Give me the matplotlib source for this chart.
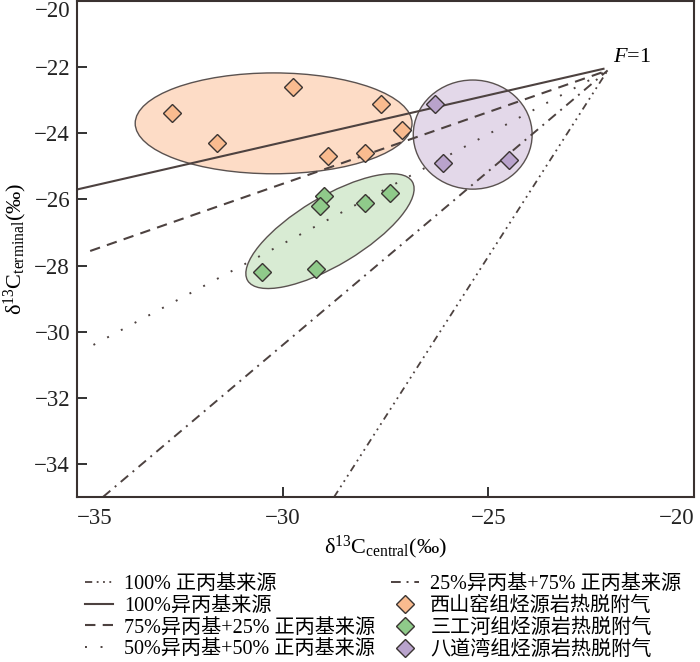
import numpy as np
import matplotlib
matplotlib.use("Agg")
import matplotlib.pyplot as plt
from matplotlib.patches import Ellipse
from matplotlib.lines import Line2D
from matplotlib.transforms import Affine2D

plt.rcParams['font.family'] = ['Liberation Serif', 'Noto Sans CJK SC', 'DejaVu Sans']
plt.rcParams['mathtext.fontset'] = 'custom'
plt.rcParams['mathtext.rm'] = 'Liberation Serif'
plt.rcParams['mathtext.it'] = 'Liberation Serif:italic'
plt.rcParams['axes.unicode_minus'] = True

# 数据
xiyao_x = [-32.7, -31.6, -29.75, -28.9, -27.6, -27.1, -28.0]
xiyao_y = [-23.4, -24.3, -22.6, -24.7, -23.1, -23.9, -24.6]
sangong_x = [-29.0, -29.1, -30.5, -29.2, -28.0, -27.4]
sangong_y = [-25.9, -26.2, -28.2, -28.1, -26.1, -25.8]
badao_x = [-26.3, -26.1, -24.5]
badao_y = [-23.1, -24.9, -24.8]

# 混合线：起点 -> F=1 汇聚点
f1_point = (-22.1, -22.1)
mix_start_x = [-28.75, -35.0, -34.68, -34.6, -34.37]
mix_start_y = [-35.0, -25.7, -27.56, -30.4, -35.0]
mix_labels = ['100% 正丙基来源', '100%异丙基来源', '75%异丙基+25% 正丙基来源',
              '50%异丙基+50% 正丙基来源', '25%异丙基+75% 正丙基来源']
mix_styles = [(0, (4, 2.5, 1, 2.5, 1, 2.5, 1, 2.5)), '-', (0, (5, 3.5)),
              (0, (1, 7)), (0, (5, 3, 1, 3))]
mix_widths = [1.3, 1.5, 1.5, 1.4, 1.4]

line_c = '#4d4240'
edge_c = '#3a3432'

fig = plt.figure(figsize=(7, 6.62), dpi=100)
ax = fig.add_axes([77 / 700, 1 - 497 / 662, 617 / 700, 496 / 662])
ax.set_xlim(-35, -20)
ax.set_ylim(-35, -20)

# y 方向相对 x 方向的像素比例，用于画旋转椭圆
ratio = (41.13 / 33.07)

# 椭圆范围
ax.add_patch(Ellipse((-30.22, -23.70), 6.73, 3.05, facecolor='#fddcc6',
                     edgecolor='#5a5250', lw=1.0, zorder=1))
ax.add_patch(Ellipse((-25.38, -24.04), 2.89, 3.30, facecolor='#e3d8e9',
                     edgecolor='#5a5250', lw=1.0, zorder=1))
green_tr = Affine2D().scale(1, ratio).translate(-28.85, -26.96) + ax.transData
ax.add_patch(Ellipse((0, 0), 2 * 96 / 41.13, 2 * 34 / 41.13, angle=31,
                     facecolor='#d8ebd3', edgecolor='#5a5250', lw=1.0,
                     transform=green_tr, zorder=1))

handles_l = []
for sx, sy, lab, ls, lw in zip(mix_start_x, mix_start_y, mix_labels, mix_styles, mix_widths):
    end = (-22.2, -22.05) if ls == '-' else f1_point
    ln, = ax.plot([sx, end[0]], [sy, end[1]], color=line_c, ls=ls, lw=lw, zorder=2,
                  label=lab)
    handles_l.append(ln)

ax.text(-21.97, -21.72, '$\\mathit{F}$=1', fontsize=16, va='center', ha='left')

ms = 8.8
s1, = ax.plot(xiyao_x, xiyao_y, 'D', ms=ms, mfc='#f9bb8f', mec=edge_c, mew=1.0,
              ls='none', zorder=3, label='西山窑组烃源岩热脱附气')
s2, = ax.plot(sangong_x, sangong_y, 'D', ms=ms, mfc='#8fca8a', mec=edge_c, mew=1.0,
              ls='none', zorder=3, label='三工河组烃源岩热脱附气')
s3, = ax.plot(badao_x, badao_y, 'D', ms=ms, mfc='#b9a3cc', mec=edge_c, mew=1.0,
              ls='none', zorder=3, label='八道湾组烃源岩热脱附气')

# 坐标轴
ax.set_xticks([-35, -30, -25, -20])
ax.set_yticks([-20, -22, -24, -26, -28, -30, -32, -34])
ax.tick_params(direction='in', length=7, width=1.3, labelsize=16.5, colors='#222222',
               labelcolor='#222222')
ax.tick_params(axis='x', pad=8)
ax.tick_params(axis='y', pad=5)
xl = ax.get_xticklabels()
xl[0].set_ha('left')
xl[-1].set_ha('right')
ax.get_yticklabels()[0].set_va('top')
for sp in ax.spines.values():
    sp.set_linewidth(1.5)
    sp.set_color('#3a3230')

ax.set_xlabel('δ$^{13}$C$_{\\mathregular{central}}$(‰)', fontsize=16, labelpad=3)
ax.set_ylabel('δ$^{13}$C$_{\\mathregular{terminal}}$(‰)', fontsize=16, labelpad=4)

# 图例
leg_kw = dict(frameon=False, fontsize=14.5, labelspacing=0.13, handlelength=1.4,
              handletextpad=0.55, borderpad=0, borderaxespad=0)
leg1 = fig.legend(handles=handles_l[:4], loc='upper left',
                  bbox_to_anchor=(85 / 700, 1 - 575 / 662), **leg_kw)
fig.legend(handles=[handles_l[4], s1, s2, s3], loc='upper left',
           bbox_to_anchor=(391 / 700, 1 - 575 / 662), **leg_kw)

fig.savefig('out.png', dpi=100)
